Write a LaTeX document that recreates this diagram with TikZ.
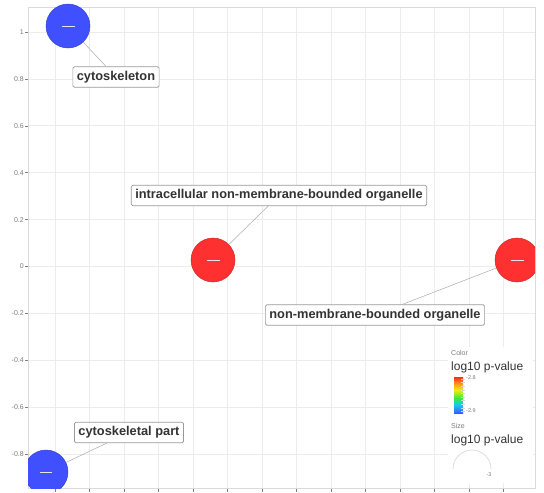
\documentclass[tikz,border=0pt]{standalone}
\usepackage{fontspec}
\setmainfont{Liberation Sans}

\definecolor{termblue}{RGB}{64,80,255}
\definecolor{termred}{RGB}{255,48,48}
\definecolor{gridgray}{RGB}{236,236,236}
\definecolor{framegray}{RGB}{218,218,218}
\definecolor{axisgray}{RGB}{125,125,125}
\definecolor{labeltext}{RGB}{51,51,51}
\definecolor{barblue}{RGB}{60,90,255}
\definecolor{barcyan}{RGB}{20,200,245}
\definecolor{bargreen}{RGB}{60,235,60}
\definecolor{baryellow}{RGB}{240,235,20}
\definecolor{barorange}{RGB}{255,150,20}
\definecolor{barred}{RGB}{255,40,40}

\pgfdeclareverticalshading{pvalbar}{100bp}{color(0bp)=(barblue); color(25bp)=(barblue);
  color(36bp)=(barcyan); color(46bp)=(bargreen); color(57bp)=(baryellow);
  color(66bp)=(barorange); color(75bp)=(barred); color(100bp)=(barred)}

\tikzset{
  gridline/.style={draw=gridgray, line width=0.8pt},
  term/.style={circle, minimum size=44pt, inner sep=0pt, draw=#1!75!black,
    fill=#1, line width=0.4pt},
  termlabel/.style={draw=gray!80, fill=white, rounded corners=1.5pt, line width=0.7pt,
    inner xsep=4pt, inner ysep=4pt, text height=9.5pt, text depth=3pt,
    font=\fontsize{12.8}{14}\selectfont\bfseries, text=labeltext},
  leader/.style={draw=gray!65, line width=0.5pt},
  ticklabel/.style={font=\fontsize{7}{8}\selectfont, text=axisgray, inner sep=1pt},
  legendtext/.style={font=\fontsize{12}{14}\selectfont, text=labeltext, inner sep=0pt, anchor=west},
}

\begin{document}
\begin{tikzpicture}[x=1pt, y=-1pt]
        % Canvas of the plot
        \fill[white] (0,0) rectangle (544,493);
        \useasboundingbox (0,0) rectangle (544,493);

        % Draw the grid
        \foreach \i in {0,...,13} {
                \draw[gridline] ({55+34.5*\i},7) -- ({55+34.5*\i},488);
                \draw[axisgray, line width=0.5pt] ({55+34.5*\i},488) -- ({55+34.5*\i},492);
            }
        \foreach \v [count=\i from 0] in {1,0.8,0.6,0.4,0.2,0,-0.2,-0.4,-0.6,-0.8} {
                \draw[gridline] (28,{32+46.9*\i}) -- (535,{32+46.9*\i});
                \draw[axisgray, line width=0.5pt] (25,{32+46.9*\i}) -- (28,{32+46.9*\i});
                \node[ticklabel, anchor=east] (y\i) at (25,{32+46.9*\i}) {\v};
            }
        \draw[framegray, line width=0.8pt] (28,7) rectangle (535,488);

        % Draw the terms
        \begin{scope}
                \clip (28,0) rectangle (535,488);
                \node[term=termblue] (c1) at (68,26) {\textcolor{white!80!gray}{\rule{13pt}{0.8pt}}};
                \node[term=termred] (c2) at (213,260) {\textcolor{white!80!gray}{\rule{13pt}{0.8pt}}};
                \node[term=termred] (c3) at (517,260) {\textcolor{white!80!gray}{\rule{13pt}{0.8pt}}};
                \node[term=termblue] (c4) at (46,472) {\textcolor{white!80!gray}{\rule{13pt}{0.8pt}}};
        \end{scope}

        % Add labels
        \node[termlabel] (l1) at (116,77) {cytoskeleton};
        \node[termlabel] (l2) at (279,195.5) {intracellular non-membrane-bounded organelle};
        \node[termlabel] (l3) at (375,315) {non-membrane-bounded organelle};
        \node[termlabel] (l4) at (129,432.5) {cytoskeletal part};

        \draw[leader] (c1) -- (l1);
        \draw[leader] (c2) -- (l2);
        \draw[leader] (c3) -- (l3);
        \draw[leader] (c4) -- (l4);

        % Legend
        \fill[white] (448,347) rectangle (533,483);
        \node[ticklabel, anchor=west, inner sep=0pt] (colortitle) at (451,353) {Color};
        \node[legendtext] (colorvar) at (451,367) {log10 p-value};
        \shade[shading=pvalbar] (454,377) rectangle (463,413);
        \foreach \t in {0,...,9} {
                \draw[white!70!gray, line width=0.4pt] (461,{379+3.6*\t}) -- (465,{379+3.6*\t});
            }
        \node[ticklabel, anchor=west, font=\fontsize{5.5}{6}\selectfont] (cmax) at (465,378) {-2.8};
        \node[ticklabel, anchor=west, font=\fontsize{5.5}{6}\selectfont] (cmin) at (465,411) {-2.9};
        \node[ticklabel, anchor=west, inner sep=0pt] (sizetitle) at (451,426) {Size};
        \node[legendtext] (sizevar) at (451,440) {log10 p-value};
        \draw[framegray, line width=0.7pt] (453,469) arc[start angle=180, end angle=0, radius=19pt];
        \node[ticklabel, font=\fontsize{5.5}{6}\selectfont] (smin) at (489,475) {-3};
\end{tikzpicture}
\end{document}
